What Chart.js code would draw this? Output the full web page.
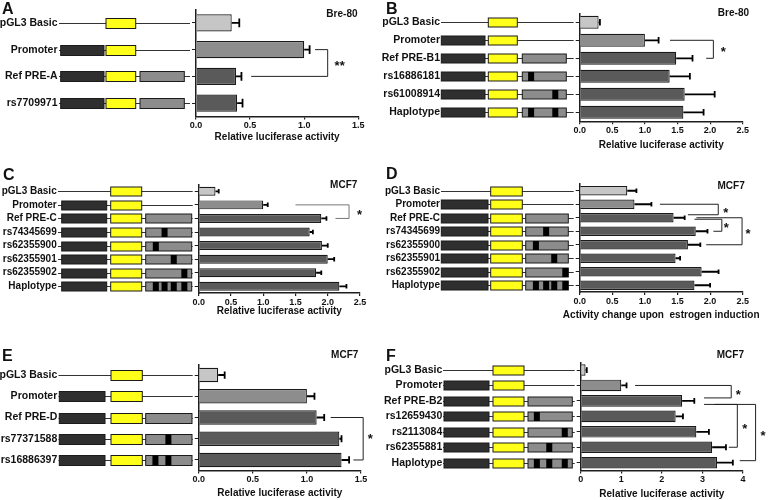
<!DOCTYPE html>
<html>
<head>
<meta charset="utf-8">
<script src="https://cdn.jsdelivr.net/npm/chart.js@4.4.1/dist/chart.umd.min.js"></script>
<style>
  html,body{margin:0;padding:0;background:#fff;}
  #wrap{position:relative;width:768px;height:500px;overflow:hidden;background:#fff;}
  #wrap canvas{position:absolute;left:0;top:0;}
</style>
</head>
<body>
<div id="wrap"></div>
<script>
// ================= DATA =================
// Panel A (Bre-80)
const categoriesA = ['pGL3 Basic', 'Promoter', 'Ref PRE-A', 'rs7709971'];
const valuesA = [0.33, 1.00, 0.37, 0.38];
const semA = [0.07, 0.05, 0.05, 0.05];
const ticksA = ['0.0', '0.5', '1.0', '1.5'];

// Panel B (Bre-80)
const categoriesB = ['pGL3 Basic', 'Promoter', 'Ref PRE-B1', 'rs16886181', 'rs61008914', 'Haplotype'];
const valuesB = [0.29, 1.00, 1.48, 1.38, 1.61, 1.59];
const semB = [0.02, 0.21, 0.25, 0.31, 0.46, 0.31];
const ticksB = ['0.0', '0.5', '1.0', '1.5', '2.0', '2.5'];

// Panel C (MCF7)
const categoriesC = ['pGL3 Basic', 'Promoter', 'Ref PRE-C', 'rs74345699', 'rs62355900', 'rs62355901', 'rs62355902', 'Haplotype'];
const valuesC = [0.26, 1.00, 1.90, 1.72, 1.91, 2.00, 1.82, 2.18];
const semC = [0.05, 0.07, 0.08, 0.05, 0.09, 0.10, 0.08, 0.11];
const ticksC = ['0.0', '0.5', '1.0', '1.5', '2.0', '2.5'];

// Panel D (MCF7, estrogen induction)
const categoriesD = ['pGL3 Basic', 'Promoter', 'Ref PRE-C', 'rs74345699', 'rs62355900', 'rs62355901', 'rs62355902', 'Haplotype'];
const valuesD = [0.73, 0.84, 1.44, 1.78, 1.66, 1.47, 1.87, 1.76];
const semD = [0.14, 0.26, 0.17, 0.18, 0.19, 0.07, 0.26, 0.24];
const ticksD = ['0.0', '0.5', '1.0', '1.5', '2.0', '2.5'];

// Panel E (MCF7)
const categoriesE = ['pGL3 Basic', 'Promoter', 'Ref PRE-D', 'rs77371588', 'rs16886397'];
const valuesE = [0.18, 1.00, 1.09, 1.30, 1.32];
const semE = [0.06, 0.07, 0.07, 0.02, 0.07];
const ticksE = ['0.0', '0.5', '1.0', '1.5'];

// Panel F (MCF7)
const categoriesF = ['pGL3 Basic', 'Promoter', 'Ref PRE-B2', 'rs12659430', 'rs2113084', 'rs62355881', 'Haplotype'];
const valuesF = [0.12, 1.00, 2.50, 2.34, 2.85, 3.24, 3.36];
const semF = [0.03, 0.13, 0.30, 0.18, 0.31, 0.34, 0.39];
const ticksF = ['0', '1', '2', '3', '4'];

// construct type of each row
const constructsA = ['basic', 'promoter', 'pre', 'pre'];
const constructsB = ['basic', 'promoter', 'pre', 'pre', 'pre', 'pre'];
const constructsC = ['basic', 'promoter', 'pre', 'pre', 'pre', 'pre', 'pre', 'pre'];
const constructsD = ['basic', 'promoter', 'pre', 'pre', 'pre', 'pre', 'pre', 'pre'];
const constructsE = ['basic', 'promoter', 'pre', 'pre', 'pre'];
const constructsF = ['basic', 'promoter', 'pre', 'pre', 'pre', 'pre', 'pre'];

// ================= LAYOUT / STYLE =================
const FONT = '"Liberation Sans", Arial, Helvetica, sans-serif';
const COLORS = { basic: '#c6c6c6', promoter: '#8d8d8d', construct: '#5a5a5a', border: '#1a1a1a',
  axis: '#1e1e1e', text: '#111', dark: '#2f2f2f', yellow: '#ffff1a', grayBox: '#8c8c8c', line: '#333' };

// SNP mark centres, as fractions along the grey PRE box (schematic)
const markLayout = {
  A: [[], [], [], []],
  B: [[], [], [], [0.2], [0.75], [0.2, 0.75]],
  C: [[], [], [], [0.41], [0.22], [0.61], [0.84], [0.22, 0.41, 0.61, 0.84]],
  D: [[], [], [], [0.48], [0.24], [0.67], [0.93], [0.24, 0.48, 0.67, 0.93]],
  E: [[], [], [], [0.49], [0.21, 0.49]],
  F: [[], [], [], [0.2], [0.83], [0.48], [0.2, 0.48, 0.83]]
};

const panels = [
  { id: 'A', labels: categoriesA, values: valuesA, sem: semA, ticks: ticksA, types: constructsA,
    xMax: 1.5, xStep: 0.5, xTitle: 'Relative luciferase activity', cell: 'Bre-80',
    L: { left: 196, right: 358.3, top: 9.5, bottom: 116.5, titleY: 137, labelEnd: 57.5, labelSize: 10.5, barPct: 0.64,
         diag: { lineStart: 59, dark: [60.7, 104], yellow: [106, 135.7], gray: [140, 184.3], boxH: 10 },
         cellX: 357.5, cellY: 14, letterX: 2, letterY: 13.5 },
    brackets: [ { rowA: 1, rowB: 2, xa: 1.10, xv: 1.217, xb: 0.51, text: '**', sdx: 12 } ] },
  { id: 'B', labels: categoriesB, values: valuesB, sem: semB, ticks: ticksB, types: constructsB,
    xMax: 2.5, xStep: 0.5, xTitle: 'Relative luciferase activity', cell: 'Bre-80',
    L: { left: 579.7, right: 742.7, top: 13.3, bottom: 121.3, titleY: 145, labelEnd: 440, labelSize: 10.5, barPct: 0.72,
         diag: { lineStart: 441, dark: [441.3, 485], yellow: [488.3, 517.3], gray: [522.3, 566.3], boxH: 9 },
         cellX: 749, cellY: 13.7, letterX: 386, letterY: 13.5 },
    brackets: [ { rowA: 1, rowB: 2, xa: 1.385, xv: 2.05, xb: 1.94, text: '*', sdx: 10 } ] },
  { id: 'C', labels: categoriesC, values: valuesC, sem: semC, ticks: ticksC, types: constructsC,
    xMax: 2.5, xStep: 0.5, xTitle: 'Relative luciferase activity', cell: 'MCF7',
    L: { left: 198.7, right: 360, top: 184.5, bottom: 293.1, titleY: 311.7, labelEnd: 56.7, labelSize: 10, barPct: 0.66,
         diag: { lineStart: 58, dark: [61.7, 106.7], yellow: [110.7, 141.7], gray: [145.7, 191.7], boxH: 9 },
         cellX: 357.3, cellY: 185, letterX: 3, letterY: 180 },
    brackets: [ { rowA: 1, rowB: 2, xa: 1.50, xv: 2.33, xb: 2.12, text: '*', sdx: 10.5, color: '#777' } ] },
  { id: 'D', labels: categoriesD, values: valuesD, sem: semD, ticks: ticksD, types: constructsD,
    xMax: 2.5, xStep: 0.5, xTitle: 'Activity change upon  estrogen induction', cell: 'MCF7',
    L: { left: 579.7, right: 742.7, top: 184, bottom: 292, titleY: 315, labelEnd: 440, labelSize: 10, barPct: 0.7,
         diag: { lineStart: 441, dark: [441.3, 488], yellow: [490.7, 522.3], gray: [525.7, 568.3], boxH: 9 },
         cellX: 744.7, cellY: 186, letterX: 386, letterY: 178.5 },
    brackets: [
      { rowA: 1, rowB: 2, dyB: -3, xa: 1.23, xv: 2.125, xb: 1.66, text: '*', sdx: 7.5 },
      { rowA: 2, rowB: 3, dyA: 1.5, xa: 1.76, xv: 2.18, xb: 2.05, text: '*', sdx: 4.5 },
      { rowA: 2, rowB: 4, dyA: 0, xa: 1.79, xv: 2.49, xb: 1.94, text: '*', sdx: 6 } ] },
  { id: 'E', labels: categoriesE, values: valuesE, sem: semE, ticks: ticksE, types: constructsE,
    xMax: 1.5, xStep: 0.5, xTitle: 'Relative luciferase activity', cell: 'MCF7',
    L: { left: 198.7, right: 361, top: 364.4, bottom: 470.6, titleY: 493.5, labelEnd: 57.3, labelSize: 10.5, barPct: 0.68,
         diag: { lineStart: 58.5, dark: [59.3, 105], yellow: [111, 142.3], gray: [145.7, 192], boxH: 10 },
         cellX: 358.3, cellY: 355, letterX: 2, letterY: 361 },
    brackets: [ { rowA: 2, rowB: 4, xa: 1.22, xv: 1.52, xb: 1.43, text: '*', sdx: 7, sdy: -3 } ] },
  { id: 'F', labels: categoriesF, values: valuesF, sem: semF, ticks: ticksF, types: constructsF,
    xMax: 4, xStep: 1, xTitle: 'Relative luciferase activity', cell: 'MCF7',
    L: { left: 580.7, right: 743, top: 362.3, bottom: 470.4, titleY: 494, labelEnd: 442.3, labelSize: 10.5, barPct: 0.75,
         diag: { lineStart: 443, dark: [444, 489], yellow: [493, 524], gray: [528, 572.3], boxH: 9 },
         cellX: 744, cellY: 355, letterX: 386, letterY: 361 },
    brackets: [
      { rowA: 1, rowB: 2, dyB: -3, xa: 1.34, xv: 3.71, xb: 3.04, text: '*', sdx: 7 },
      { rowA: 2, rowB: 5, dyA: 3.5, xa: 3.04, xv: 3.86, xb: 3.65, text: '*', sdx: 7.5 },
      { rowA: 2, rowB: 6, dyA: 3.5, dyB: -2, xa: 3.3, xv: 4.31, xb: 3.92, text: '*', sdx: 7.5 } ] }
];

// ================= DRAWING =================
const wrap = document.getElementById('wrap');
const TITLE_LH = 12;

function makePanel(p) {
  const L = p.L;
  const canvas = document.createElement('canvas');
  canvas.width = 768; canvas.height = 500;
  wrap.appendChild(canvas);

  const decor = {
    id: 'decor' + p.id,
    afterDatasetsDraw(chart) {
      const ctx = chart.ctx, xs = chart.scales.x;
      const meta = chart.getDatasetMeta(0);
      ctx.save();
      ctx.strokeStyle = '#000'; ctx.lineWidth = 1.8;
      meta.data.forEach((el, i) => {
        const x0 = xs.getPixelForValue(p.values[i]);
        const x1 = xs.getPixelForValue(p.values[i] + p.sem[i]);
        const y = el.y, h = el.height;
        ctx.beginPath();
        ctx.moveTo(x0, y); ctx.lineTo(x1, y);
        ctx.moveTo(x1, y - h * 0.25); ctx.lineTo(x1, y + h * 0.25);
        ctx.stroke();
      });
      ctx.restore();
    },
    afterDraw(chart) {
      const ctx = chart.ctx, xs = chart.scales.x, ys = chart.scales.y;
      const D = L.diag;
      ctx.save();
      // construct diagrams
      p.types.forEach((t, i) => {
        const y = Math.round(ys.getPixelForValue(i)) + 0.5;
        const hh = D.boxH / 2;
        ctx.strokeStyle = COLORS.line; ctx.lineWidth = 1;
        ctx.beginPath(); ctx.moveTo(D.lineStart, y); ctx.lineTo(L.left - 6, y); ctx.stroke();
        const box = (a, b, fill) => {
          ctx.fillStyle = fill; ctx.fillRect(a, y - hh, b - a, D.boxH);
          ctx.strokeStyle = '#1a1a1a'; ctx.lineWidth = 1; ctx.strokeRect(a, y - hh, b - a, D.boxH);
        };
        if (t !== 'basic') box(D.dark[0], D.dark[1], COLORS.dark);
        box(D.yellow[0], D.yellow[1], COLORS.yellow);
        if (t === 'pre') {
          box(D.gray[0], D.gray[1], COLORS.grayBox);
          const w = D.gray[1] - D.gray[0];
          (markLayout[p.id][i] || []).forEach(f => {
            const cx = D.gray[0] + f * w;
            ctx.fillStyle = '#000';
            ctx.fillRect(Math.max(D.gray[0], Math.min(D.gray[1] - 6, cx - 3)), y - hh, 6, D.boxH);
          });
        }
      });
      // significance brackets
      p.brackets.forEach(b => {
        const yA = ys.getPixelForValue(b.rowA) + (b.dyA || 0);
        const yB = ys.getPixelForValue(b.rowB) + (b.dyB || 0);
        const xv = xs.getPixelForValue(b.xv);
        ctx.strokeStyle = b.color || '#222'; ctx.lineWidth = 1;
        ctx.beginPath();
        ctx.moveTo(xs.getPixelForValue(b.xa), yA); ctx.lineTo(xv, yA);
        ctx.lineTo(xv, yB); ctx.lineTo(xs.getPixelForValue(b.xb), yB);
        ctx.stroke();
        ctx.fillStyle = '#111';
        ctx.font = 'bold 13px ' + FONT;
        ctx.textAlign = 'center'; ctx.textBaseline = 'alphabetic';
        ctx.fillText(b.text, xv + b.sdx, (yA + yB) / 2 + 7 + (b.sdy || 0));
      });
      // x-axis title (centred on the plot area)
      const ca = chart.chartArea;
      ctx.fillStyle = COLORS.text;
      ctx.font = 'bold 10px ' + FONT;
      ctx.textAlign = 'center'; ctx.textBaseline = 'middle';
      ctx.fillText(p.xTitle, (ca.left + ca.right) / 2, L.titleY);
      // cell line label
      ctx.textAlign = 'right';
      ctx.fillText(p.cell, L.cellX, L.cellY);
      // panel letter
      ctx.font = 'bold 16px ' + FONT;
      ctx.textAlign = 'left'; ctx.textBaseline = 'alphabetic';
      ctx.fillText(p.id, L.letterX, L.letterY);
      ctx.restore();
    }
  };

  new Chart(canvas, {
    type: 'bar',
    data: {
      labels: p.labels,
      datasets: [{
        data: p.values,
        backgroundColor: p.values.map((v, i) => i === 0 ? COLORS.basic : (i === 1 ? COLORS.promoter : COLORS.construct)),
        borderColor: COLORS.border,
        borderWidth: 1.2,
        barPercentage: L.barPct,
        categoryPercentage: 1
      }]
    },
    options: {
      indexAxis: 'y',
      responsive: false,
      animation: false,
      devicePixelRatio: 1,
      layout: { padding: { left: 0, top: L.top, right: 768 - L.right, bottom: 500 - (L.titleY + TITLE_LH / 2) } },
      plugins: { legend: { display: false }, tooltip: { enabled: false } },
      scales: {
        x: {
          type: 'linear', min: 0, max: p.xMax,
          ticks: { stepSize: p.xStep, autoSkip: false, maxRotation: 0, padding: 1, color: COLORS.text,
                   font: { family: FONT, size: 9, weight: 'bold' },
                   callback: (v, i) => p.ticks[i] },
          grid: { drawOnChartArea: false, drawTicks: true, tickLength: 3, color: COLORS.axis, lineWidth: 1.2 },
          border: { display: true, color: COLORS.axis, width: 1.5 },
          title: { display: false },
          afterFit: s => { s.height = (L.titleY + TITLE_LH / 2) - L.bottom; s.paddingLeft = 0; s.paddingRight = 0; }
        },
        y: {
          type: 'category', offset: true,
          grid: { offset: false, drawOnChartArea: false, drawTicks: true, tickLength: 4, color: COLORS.axis, lineWidth: 1 },
          border: { display: true, color: COLORS.axis, width: 1.5 },
          ticks: { autoSkip: false, padding: L.left - 4 - L.labelEnd, color: COLORS.text,
                   font: { family: FONT, size: L.labelSize, weight: 'bold' } },
          afterFit: s => { s.width = L.left; s.paddingTop = 0; s.paddingBottom = 0; }
        }
      }
    },
    plugins: [decor]
  });
}

panels.forEach(makePanel);
</script>
</body>
</html>
